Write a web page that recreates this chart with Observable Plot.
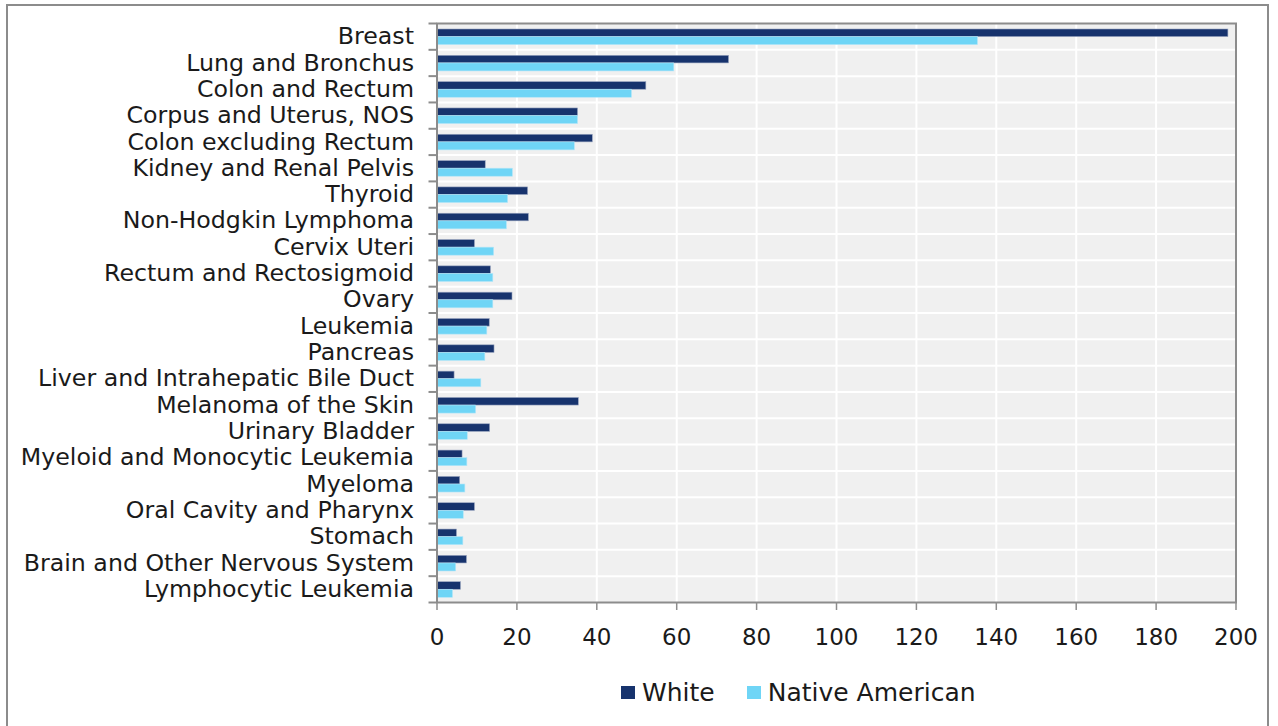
<!DOCTYPE html>
<html>
<head>
<meta charset="utf-8">
<script src="https://cdn.jsdelivr.net/npm/d3@7"></script>
<script src="https://cdn.jsdelivr.net/npm/@observablehq/plot@0.6"></script>
<style>
  html, body { margin: 0; padding: 0; background: #fff; }
  #wrap { position: relative; width: 1278px; height: 726px; overflow: hidden; font-family: "DejaVu Sans", sans-serif; }
  #border { position: absolute; left: 6px; top: 4px; width: 1263px; height: 740px; border: 2px solid #8c8c8c; box-sizing: border-box; }
  #chart { position: absolute; left: 0; top: 0; }
  #legend { position: absolute; left: 621px; top: 678px; display: flex; align-items: center; font-size: 25px; color: #1a1a1a; }
  .sw { display: inline-block; width: 14px; height: 13px; margin-right: 7px; }
  .item { display: flex; align-items: center; margin-right: 32px; }
</style>
</head>
<body>
<div id="wrap">
  <div id="border"></div>
  <div id="chart"></div>
  <div id="legend"></div>
</div>
<script>
const categories = [
  "Breast", "Lung and Bronchus", "Colon and Rectum", "Corpus and Uterus, NOS",
  "Colon excluding Rectum", "Kidney and Renal Pelvis", "Thyroid", "Non-Hodgkin Lymphoma",
  "Cervix Uteri", "Rectum and Rectosigmoid", "Ovary", "Leukemia", "Pancreas",
  "Liver and Intrahepatic Bile Duct", "Melanoma of the Skin", "Urinary Bladder",
  "Myeloid and Monocytic Leukemia", "Myeloma", "Oral Cavity and Pharynx", "Stomach",
  "Brain and Other Nervous System", "Lymphocytic Leukemia"
];
const white = [198.1, 73.1, 52.4, 35.3, 39.0, 12.2, 22.8, 23.0, 9.5, 13.5, 18.9, 13.2, 14.4, 4.4, 35.5, 13.3, 6.4, 5.8, 9.5, 5.0, 7.5, 6.0];
const nativeAmerican = [135.4, 59.4, 48.8, 35.3, 34.5, 19.0, 17.8, 17.5, 14.3, 14.1, 14.1, 12.6, 12.1, 11.1, 9.8, 7.7, 7.6, 7.1, 6.7, 6.6, 4.8, 4.0];
const seriesNames = ["White", "Native American"];
const seriesColors = ["#17336d", "#6fd5f6"];
const xTicks = [0, 20, 40, 60, 80, 100, 120, 140, 160, 180, 200];

const rows = categories.map((c, i) => ({category: c, white: white[i], native: nativeAmerican[i]}));

const W = 1278, H = 660, mt = 23, mb = 58, ml = 436.5, mr = 42.5;
const bw = (H - mt - mb) / categories.length;
const gray = "#8c8c8c";

const plot = Plot.plot({
  width: W, height: H,
  marginTop: mt, marginBottom: mb, marginLeft: ml, marginRight: mr,
  style: {fontFamily: "DejaVu Sans, sans-serif", fontSize: "23.7px", color: "#1a1a1a", background: "transparent", overflow: "visible"},
  x: {domain: [0, 200], ticks: xTicks, label: null},
  y: {domain: categories, padding: 0, round: false, label: null},
  marks: [
    Plot.frame({fill: "#f0f0f0"}),
    Plot.ruleX(xTicks.slice(1, -1), {stroke: "white", strokeWidth: 2}),
    Plot.ruleY(categories.slice(1), {y: d => d, dy: -bw / 2, stroke: "white", strokeWidth: 2}),
    Plot.barX(rows, {y: "category", x: "white", fill: seriesColors[0], stroke: "#9aa6c0", strokeWidth: 0.6, insetTop: 6, insetBottom: bw - 13.6}),
    Plot.barX(rows, {y: "category", x: "native", fill: seriesColors[1], stroke: "#b5e6f8", strokeWidth: 0.6, insetTop: 13.6, insetBottom: 4.7}),
    Plot.frame({stroke: gray, strokeWidth: 2}),
    Plot.ruleY(categories, {y: d => d, x1: -2, x2: 0, dy: -bw / 2, stroke: gray, strokeWidth: 2}),
    Plot.ruleY(categories.slice(-1), {y: d => d, x1: -2, x2: 0, dy: bw / 2, stroke: gray, strokeWidth: 2}),
    Plot.axisX({ticks: xTicks, tickSize: 8, tickPadding: 18, stroke: gray, strokeWidth: 1.5, fill: "#1a1a1a", fontSize: 23, label: null}),
    Plot.axisY({tickSize: 0, tickPadding: 23, fill: "#1a1a1a", label: null})
  ]
});
document.getElementById("chart").appendChild(plot);

const legend = document.getElementById("legend");
seriesNames.forEach((n, i) => {
  const it = document.createElement("div");
  it.className = "item";
  const sw = document.createElement("span");
  sw.className = "sw";
  sw.style.background = seriesColors[i];
  it.appendChild(sw);
  it.appendChild(document.createTextNode(n));
  legend.appendChild(it);
});
</script>
</body>
</html>
